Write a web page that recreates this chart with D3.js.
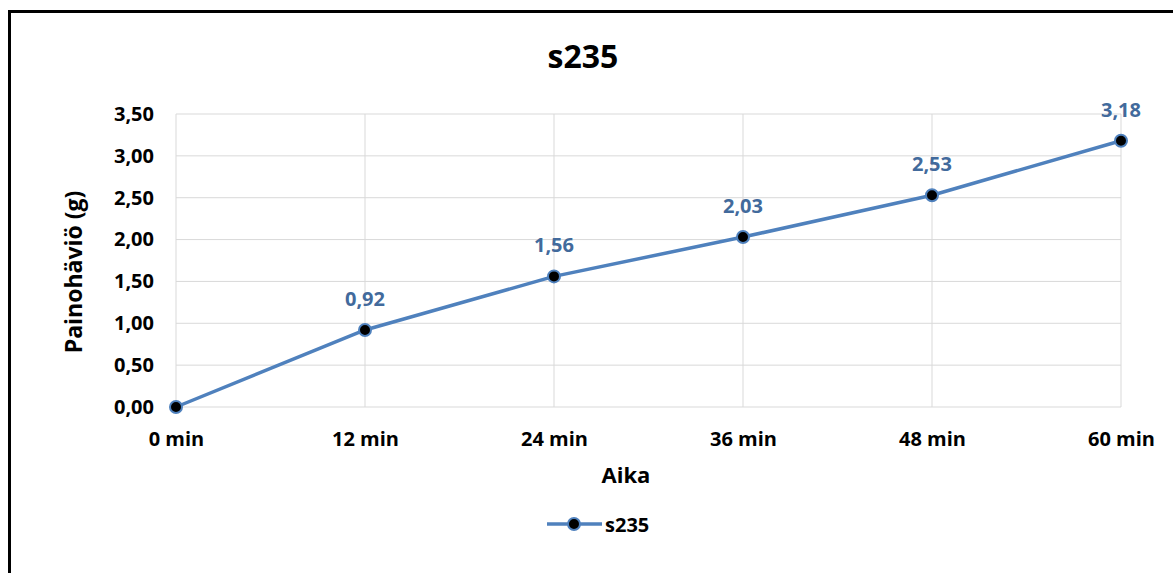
<!DOCTYPE html>
<html>
<head>
<meta charset="utf-8">
<script src="https://cdn.jsdelivr.net/npm/d3@7"></script>
<style>
  html, body { margin: 0; padding: 0; background: #fff; }
  svg { display: block; font-family: "Open Sans", Lato, sans-serif; }
</style>
</head>
<body>
<svg id="chart" width="1173" height="573"></svg>
<script>
// Weight loss of sample s235 over time
const categories = ["0 min", "12 min", "24 min", "36 min", "48 min", "60 min"];
const values = [0, 0.92, 1.56, 2.03, 2.53, 3.18];
const yTicks = [0, 0.5, 1, 1.5, 2, 2.5, 3, 3.5];
const seriesName = "s235";

const svg = d3.select("#chart");
const fmt = v => v.toFixed(2).replace(".", ",");
const FONT = "'Open Sans', Lato, sans-serif";

// outer frame
svg.append("rect")
  .attr("x", 9.5).attr("y", 11.5)
  .attr("width", 1200).attr("height", 600)
  .attr("fill", "#fff").attr("stroke", "#000").attr("stroke-width", 3);

const x = d3.scalePoint().domain(categories).range([176, 1121]);
const y = d3.scaleLinear().domain([0, 3.5]).range([407, 114]);

// gridlines
svg.append("g").selectAll("line").data(yTicks).join("line")
  .attr("x1", 176).attr("x2", 1121)
  .attr("y1", d => y(d)).attr("y2", d => y(d))
  .attr("stroke", "#d9d9d9").attr("stroke-width", 1);
svg.append("g").selectAll("line").data(categories).join("line")
  .attr("x1", d => x(d)).attr("x2", d => x(d))
  .attr("y1", y(3.5)).attr("y2", y(0))
  .attr("stroke", "#d9d9d9").attr("stroke-width", 1);

// y axis labels
const yAxis = d3.axisLeft(y).tickValues(yTicks).tickFormat(fmt).tickSize(0).tickPadding(22);
const gy = svg.append("g").attr("transform", "translate(176,0)").call(yAxis);
gy.select(".domain").remove();
gy.selectAll("text").attr("font-size", 20).attr("font-weight", "bold").attr("fill", "#000")
  .attr("font-family", FONT);

// x axis labels
const xAxis = d3.axisBottom(x).tickSize(0).tickPadding(25);
const gx = svg.append("g").attr("transform", "translate(0,407)").call(xAxis);
gx.select(".domain").remove();
gx.selectAll("text").attr("font-size", 20).attr("font-weight", "bold").attr("fill", "#000")
  .attr("font-family", FONT);

// title
svg.append("text").attr("x", 583).attr("y", 68).attr("text-anchor", "middle")
  .attr("font-size", 32).attr("font-weight", "bold").text("s235");

// axis titles
svg.append("text").attr("x", 626).attr("y", 483).attr("text-anchor", "middle")
  .attr("font-size", 22).attr("font-weight", "bold").text("Aika");
svg.append("text").attr("transform", "translate(82,272) rotate(-90)").attr("text-anchor", "middle")
  .attr("font-size", 23).attr("font-weight", "bold").text("Painohäviö (g)");

// series line
const data = categories.map((c, i) => ({ c, v: values[i] }));
svg.append("path").datum(data)
  .attr("d", d3.line().x(d => x(d.c)).y(d => y(d.v)))
  .attr("fill", "none").attr("stroke", "#4f81bd").attr("stroke-width", 3.5)
  .attr("stroke-linejoin", "round");

svg.append("g").selectAll("circle").data(data).join("circle")
  .attr("cx", d => x(d.c)).attr("cy", d => y(d.v)).attr("r", 6)
  .attr("fill", "#000").attr("stroke", "#4f81bd").attr("stroke-width", 2);

// data labels
svg.append("g").selectAll("text").data(data.filter(d => d.v > 0)).join("text")
  .attr("x", d => x(d.c)).attr("y", d => y(d.v) - 24)
  .attr("text-anchor", "middle").attr("font-size", 20).attr("font-weight", "bold")
  .attr("fill", "#426a9c").text(d => fmt(d.v));

// legend
const lg = svg.append("g").attr("transform", "translate(547,524)");
lg.append("line").attr("x1", 0).attr("x2", 55).attr("y1", 0).attr("y2", 0)
  .attr("stroke", "#4f81bd").attr("stroke-width", 3.5);
lg.append("circle").attr("cx", 27).attr("cy", 0).attr("r", 6)
  .attr("fill", "#000").attr("stroke", "#4f81bd").attr("stroke-width", 2);
lg.append("text").attr("x", 58).attr("y", 8).attr("font-size", 20).attr("font-weight", "bold")
  .text(seriesName);
</script>
</body>
</html>
